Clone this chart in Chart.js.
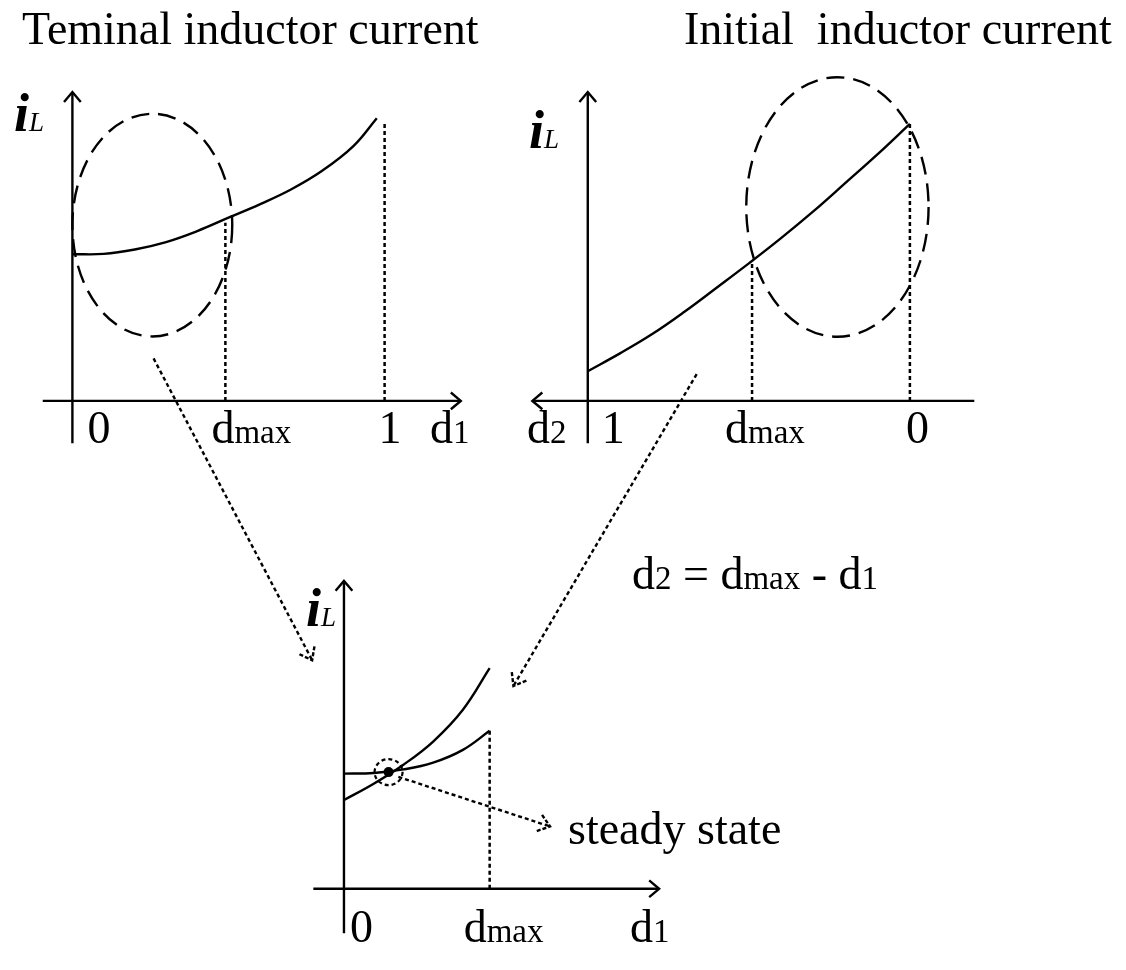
<!DOCTYPE html>
<html><head><meta charset="utf-8">
<script src="https://cdn.jsdelivr.net/npm/chart.js@4.4.1/dist/chart.umd.min.js"></script>
<style>
html,body{margin:0;padding:0;background:#fff;}
#wrap{position:relative;width:1126px;height:970px;overflow:hidden;background:#fff;}
#c{position:absolute;left:0;top:0;}
.t{position:absolute;font-family:"Liberation Serif","Times New Roman",serif;color:#000;white-space:pre;line-height:1;}
</style></head><body>
<div id="wrap"><canvas id="c" width="1126" height="970"></canvas></div>
<script>
// ---------------- DATA ----------------
const dmax = 0.49;
// Panel A: terminal inductor current vs d1
const d1Terminal = [0, 0.1, 0.2, 0.3, 0.4, 0.5, 0.6, 0.7, 0.8, 0.9, 0.975];
const iLTerminal = [0.494, 0.495, 0.510, 0.535, 0.572, 0.617, 0.662, 0.712, 0.775, 0.858, 0.952];
const guideTopsA = [0.60, 0.94];          // dotted guides at dmax and 1
// Panel B: initial inductor current vs d2 (axis reversed)
const d2Initial = [1, 0.9, 0.8, 0.7, 0.6, 0.5, 0.4, 0.3, 0.2, 0.1, 0];
const iLInitial = [0.100, 0.160, 0.225, 0.300, 0.381, 0.463, 0.548, 0.638, 0.734, 0.831, 0.933];
const guideTopsB = [0.47, 0.933];         // dotted guides at dmax and 0
// Panel C: both currents vs d1 on [0, dmax]
const d1Combined = [0, 0.1, 0.2, 0.3, 0.4, 0.49];
const iLTerminalC = [0.388, 0.390, 0.402, 0.425, 0.468, 0.532];
const iLInitialC  = [0.299, 0.354, 0.418, 0.496, 0.603, 0.743];
const guideTopC = 0.532;
const steadyPoint = [0.15, 0.393];
// tick labels [value, main, subscript]
const ticksA = [[0, '0', ''], [dmax, 'd', 'max'], [1, '1', '']];
const ticksB = [[1, '1', ''], [dmax, 'd', 'max'], [0, '0', '']];
const ticksC = [[0, '0', ''], [dmax, 'd', 'max']];
// annotation ellipses (panel, center x, center y, radius x, radius y) in data units
const ellipses = [['A', 0.256, 0.592, 0.256, 0.375], ['B', 0.225, 0.653, 0.283, 0.437]];
// dotted arrows: [fromPanel, x, y, toPanel, x, y]
const arrows = [
  ['A', 0.26, 0.143, 'C', -0.107, 0.77],
  ['B', 0.662, 0.09, 'C', 0.57, 0.683],
  ['C', 0.183, 0.377, 'C', 0.693, 0.21]
];

// ---------------- LAYOUT ----------------
const W = 1126, H = 970;
const panels = {
  A: {ox: 68,  oy: 400, sx: 315, sy: 300, reverse: false, yAxisAt: 0, ax: [-0.095, 1.244], ay: [-0.143, 1.04]},
  B: {ox: 913, oy: 400, sx: 325, sy: 300, reverse: true,  yAxisAt: 1, ax: [-0.2, 1.172],   ay: [-0.143, 1.04]},
  C: {ox: 342, oy: 893, sx: 300, sy: 300, reverse: false, yAxisAt: 0, ax: [-0.103, 1.06],  ay: [-0.15, 1.037]}
};
const tickOffsets = {A: [15, -14, -6], B: [14, -27, -4], C: [6, -26]};
const tickBaselines = {A: 444, B: 444, C: 943};

const scales = {};
for (const [k, p] of Object.entries(panels)) {
  scales['x' + k] = {type: 'linear', axis: 'x', display: false, bounds: 'data', reverse: p.reverse,
    min: p.reverse ? (p.ox - W) / p.sx : -p.ox / p.sx,
    max: p.reverse ? p.ox / p.sx : (W - p.ox) / p.sx};
  scales['y' + k] = {type: 'linear', axis: 'y', display: false, bounds: 'data',
    min: -(H - p.oy) / p.sy, max: p.oy / p.sy};
}

const pts = (xs, ys) => xs.map((x, i) => ({x, y: ys[i]}));
const curve = (k, data) => ({data, xAxisID: 'x' + k, yAxisID: 'y' + k, showLine: true, borderColor: '#000',
  borderWidth: 2.4, pointRadius: 0, fill: false, tension: 0.4});
const guide = (k, x, top) => ({data: [{x, y: 0}, {x, y: top}], xAxisID: 'x' + k, yAxisID: 'y' + k, showLine: true,
  borderColor: '#000', borderWidth: 2.5, borderDash: [4, 3], pointRadius: 0, fill: false});

const datasets = [
  curve('A', pts(d1Terminal, iLTerminal)),
  guide('A', dmax, guideTopsA[0]), guide('A', 1, guideTopsA[1]),
  curve('B', pts(d2Initial, iLInitial)),
  guide('B', dmax, guideTopsB[0]), guide('B', 0, guideTopsB[1]),
  curve('C', pts(d1Combined, iLTerminalC)),
  curve('C', pts(d1Combined, iLInitialC)),
  guide('C', dmax, guideTopC),
  {data: [{x: steadyPoint[0], y: steadyPoint[1]}], xAxisID: 'xC', yAxisID: 'yC', showLine: false,
   pointRadius: 5, pointBackgroundColor: '#000', pointBorderColor: '#000', pointBorderWidth: 0}
];

function P(chart, k, x, y) {
  return [chart.scales['x' + k].getPixelForValue(x), chart.scales['y' + k].getPixelForValue(y)];
}
function head(ctx, x1, y1, x2, y2, len, ang) {
  const a = Math.atan2(y2 - y1, x2 - x1);
  ctx.beginPath();
  ctx.moveTo(x2 - len * Math.cos(a - ang), y2 - len * Math.sin(a - ang));
  ctx.lineTo(x2, y2);
  ctx.lineTo(x2 - len * Math.cos(a + ang), y2 - len * Math.sin(a + ang));
  ctx.stroke();
}

const diagram = {
  id: 'diagram',
  beforeDatasetsDraw(chart) {
    const ctx = chart.ctx;
    ctx.save();
    ctx.strokeStyle = '#000'; ctx.lineWidth = 2.4; ctx.setLineDash([]); ctx.lineCap = 'butt';
    for (const k of Object.keys(panels)) {
      const p = panels[k];
      const [xa, ya] = P(chart, k, p.ax[0], 0), [xb, yb] = P(chart, k, p.ax[1], 0);
      ctx.beginPath(); ctx.moveTo(xa, ya); ctx.lineTo(xb, yb); ctx.stroke();
      head(ctx, xa, ya, xb, yb, 13, 0.7);
      const [xc, yc] = P(chart, k, p.yAxisAt, p.ay[0]), [xd, yd] = P(chart, k, p.yAxisAt, p.ay[1]);
      ctx.beginPath(); ctx.moveTo(xc, yc); ctx.lineTo(xd, yd); ctx.stroke();
      head(ctx, xc, yc, xd, yd, 13, 0.7);
    }
    ctx.restore();
  },
  afterDatasetsDraw(chart) {
    const ctx = chart.ctx;
    ctx.save();
    ctx.strokeStyle = '#000';
    // dashed ellipses
    ctx.lineWidth = 2.4; ctx.setLineDash([18, 9]);
    for (const [k, cx, cy, rx, ry] of ellipses) {
      const [x0, y0] = P(chart, k, cx, cy);
      const [x1] = P(chart, k, cx + rx, cy); const [, y1] = P(chart, k, cx, cy + ry);
      ctx.beginPath(); ctx.ellipse(x0, y0, Math.abs(x1 - x0), Math.abs(y1 - y0), 0, 0, Math.PI * 2); ctx.stroke();
    }
    // small dashed ring around the steady state point
    const [sx, sy] = P(chart, 'C', steadyPoint[0], steadyPoint[1]);
    ctx.lineWidth = 2.2; ctx.setLineDash([4, 3]);
    ctx.beginPath(); ctx.ellipse(sx, sy, 14, 13, 0, 0, Math.PI * 2); ctx.stroke();
    // dotted arrows
    for (const [ka, xa, ya, kb, xb, yb] of arrows) {
      const [x1, y1] = P(chart, ka, xa, ya), [x2, y2] = P(chart, kb, xb, yb);
      ctx.lineWidth = 2.4; ctx.setLineDash([4, 3]);
      ctx.beginPath(); ctx.moveTo(x1, y1); ctx.lineTo(x2, y2); ctx.stroke();
      ctx.setLineDash([4, 2]);
      head(ctx, x1, y1, x2, y2, 14, 0.65);
    }
    ctx.restore();
  }
};

const chart = new Chart(document.getElementById('c'), {
  type: 'scatter',
  data: {datasets},
  options: {
    responsive: false, animation: false, events: [],
    layout: {padding: 0},
    scales,
    plugins: {legend: {display: false}, tooltip: {enabled: false}, title: {display: false}}
  },
  plugins: [diagram]
});

// ---------------- TEXT ----------------
const wrap = document.getElementById('wrap');
function addText(parts, left, baseline, size) {
  const d = document.createElement('div');
  d.className = 't';
  d.style.fontSize = size + 'px';
  d.style.left = left + 'px';
  d.style.top = (baseline - 0.8375 * size) + 'px';
  for (const [txt, sz, style] of parts) {
    const s = document.createElement('span');
    s.textContent = txt;
    if (sz) s.style.fontSize = sz + 'px';
    if (style) s.style.cssText += style;
    d.appendChild(s);
  }
  wrap.appendChild(d);
}
const MAIN = 46, SUB = 33;
addText([['Teminal inductor current']], 22, 45, MAIN);
addText([['Initial  inductor current']], 684, 45, MAIN);
const iL = [['i', 54, 'font-weight:bold;font-style:italic;'], ['L', 27, 'font-style:italic;']];
addText(iL, 14, 125, MAIN);
addText(iL, 529, 142, MAIN);
addText(iL, 306, 620, MAIN);
addText([['d'], ['1', SUB]], 430, 444, MAIN);
addText([['d'], ['2', SUB]], 527, 444, MAIN);
addText([['d'], ['1', SUB]], 630, 943, MAIN);
addText([['d'], ['2', SUB], [' = d'], ['max', SUB], [' - d'], ['1', SUB]], 632, 590, MAIN);
addText([['steady state']], 568, 845, MAIN);
for (const [k, list] of [['A', ticksA], ['B', ticksB], ['C', ticksC]]) {
  list.forEach(([v, main, sub], i) => {
    const x = chart.scales['x' + k].getPixelForValue(v) + tickOffsets[k][i];
    const parts = [[main]]; if (sub) parts.push([sub, SUB]);
    addText(parts, x, tickBaselines[k], MAIN);
  });
}
</script>
</body></html>
